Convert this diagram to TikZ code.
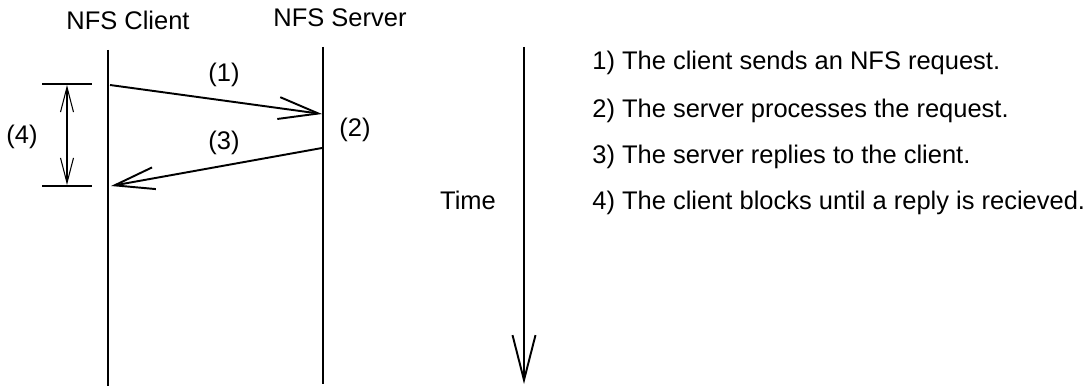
\documentclass[tikz,border=0pt]{standalone}
\usepackage{fontspec}
\setmainfont{Liberation Sans}
\usetikzlibrary{arrows.meta}
\usetikzlibrary{positioning}
\tikzset{
lifeline/.style = { draw = black, line width = 1.1pt },
message/.style = { draw = black, line width = 1.1pt, -{Straight Barb[length = 8mm, width = 4.4mm, line width = 1.1pt]} },
span/.style = { draw = black, line width = 0.6pt, {Straight Barb[length = 5mm, width = 2.6mm]}-{Straight Barb[length = 5mm, width = 2.6mm]} },
tick/.style = { draw = black, line width = 0.9pt },
label/.style = { font = \fontsize{14.5}{17}\selectfont, inner sep = 1pt },
step text/.style = { font = \fontsize{14.5}{17}\selectfont, anchor = west, inner sep = 0pt },
}
\begin{document}
\begin{tikzpicture}[x = 0.02cm, y = -0.02cm]
    \useasboundingbox (0, 0) rectangle (1084, 388);
    % lifelines
    \coordinate (client top) at (108, 50);
    \coordinate (client bottom) at (108, 386);
    \coordinate (server top) at (323, 47);
    \coordinate (server bottom) at (323, 384);
    \node[label] (client) at (128, 20) {NFS Client};
    \node[label] (server) at (340, 18) {NFS Server};
    \draw[lifeline] (client top) -- (client bottom);
    \draw[lifeline] (server top) -- (server bottom);
    % messages
    \coordinate (req start) at (110, 85);
    \coordinate (req end) at (322, 114);
    \coordinate (rep start) at (322, 148);
    \coordinate (rep end) at (111, 186);
    \draw[message] (req start) -- (req end);
    \draw[message] (rep start) -- (rep end);
    \node[label] (one) at (224, 75) {(1)};
    \node[label] (two) at (355, 130) {(2)};
    \node[label] (three) at (224, 143) {(3)};
    % blocking interval
    \coordinate (wait top l) at (42, 84);
    \coordinate (wait top r) at (92, 84);
    \coordinate (wait bot l) at (42, 186);
    \coordinate (wait bot r) at (92, 186);
    \coordinate (wait top) at (67, 85);
    \coordinate (wait bot) at (67, 185);
    \draw[tick] (wait top l) -- (wait top r);
    \draw[tick] (wait bot l) -- (wait bot r);
    \draw[span] (wait top) -- (wait bot);
    \node[label] (four) at (22, 137) {(4)};
    % time axis
    \coordinate (time top) at (524, 47);
    \coordinate (time bottom) at (524, 384);
    \draw[lifeline, -{Straight Barb[length = 9mm, width = 4.6mm, line width = 1.1pt]}] (time top) -- (time bottom);
    \node[label] (time) at (468, 200) {Time};
    % legend
    \node[step text] (s1) at (592, 63) {1) The client sends an NFS request.};
    \node[step text] (s2) at (592, 111) {2) The server processes the request.};
    \node[step text] (s3) at (592, 157) {3) The server replies to the client.};
    \node[step text] (s4) at (592, 203) {4) The client blocks until a reply is recieved.};
\end{tikzpicture}
\end{document}
